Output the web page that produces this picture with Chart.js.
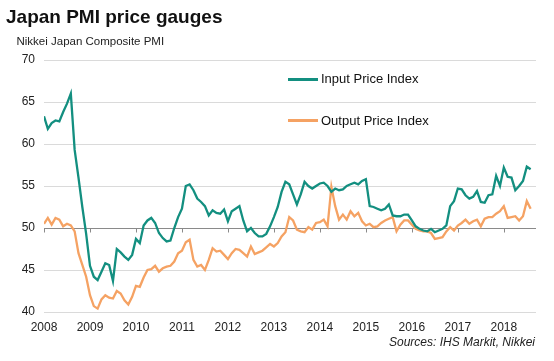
<!DOCTYPE html>
<html>
<head>
<meta charset="utf-8">
<script src="https://cdn.jsdelivr.net/npm/chart.js@4/dist/chart.umd.min.js"></script>
<style>
  html, body { margin: 0; padding: 0; background: #fff; }
  #wrap { position: relative; width: 554px; height: 361px; font-family: "Liberation Sans", Arial, sans-serif; }
  canvas { position: absolute; left: 0; top: 0; }
  .txt { position: absolute; white-space: nowrap; line-height: 1; }
  #title { left: 6px; top: 7px; font-size: 19px; font-weight: bold; color: #111; }
  #subtitle { left: 16.5px; top: 35.5px; font-size: 11.5px; color: #222; }
  #source { right: 19px; top: 336px; font-size: 12px; font-style: italic; color: #222; }
  .leg { font-size: 13px; color: #111; left: 321px; }
  .legline { position: absolute; left: 288px; width: 30px; height: 2.5px; }
</style>
</head>
<body>
<div id="wrap">
  <canvas id="c" width="554" height="361"></canvas>
  <div id="title" class="txt">Japan PMI price gauges</div>
  <div id="subtitle" class="txt">Nikkei Japan Composite PMI</div>
  <div class="legline" style="top:78px;background:#138f80"></div>
  <div class="txt leg" style="top:72px">Input Price Index</div>
  <div class="legline" style="top:119px;background:#f5a263"></div>
  <div class="txt leg" style="top:113.5px">Output Price Index</div>
  <div id="source" class="txt">Sources: IHS Markit, Nikkei</div>
</div>
<script>
// Year tick labels (one tick every 12 months, first month = Jan 2008)
const yearLabels = ['2008','2009','2010','2011','2012','2013','2014','2015','2016','2017','2018'];
const yTicks = [40, 45, 50, 55, 60, 65, 70];

// Monthly values, Jan 2008 .. Aug 2018
const inputPrice = [
  63.3, 61.8, 62.5, 62.8, 62.7, 63.8, 64.8, 66.0, 59.3, 56.0, 52.5, 49.3,
  45.5, 44.2, 43.8, 44.8, 45.8, 45.6, 43.7, 47.5, 47.1, 46.6, 46.2, 46.8,
  48.7, 48.2, 50.3, 50.9, 51.2, 50.6, 49.4, 48.8, 48.4, 48.5, 50.0, 51.3,
  52.3, 55.0, 55.2, 54.5, 53.5, 53.1, 52.6, 51.5, 52.1, 51.8, 51.7, 52.2,
  50.8, 52.0, 52.3, 52.6, 50.9, 49.6, 50.0, 49.4, 49.0, 49.0, 49.3, 50.2,
  51.3, 52.5, 54.3, 55.5, 55.2, 54.0, 52.8, 54.0, 55.5, 55.0, 54.7, 55.0,
  55.3, 55.4, 55.0, 54.3, 54.7, 54.5, 54.6, 55.0, 55.2, 55.4, 55.2, 55.6,
  55.8, 52.6, 52.5, 52.3, 52.1, 52.3, 52.8, 51.5, 51.4, 51.4, 51.6, 51.6,
  50.9, 50.2, 49.9, 49.7, 49.6, 49.9, 49.5, 49.7, 49.9, 50.3, 52.6, 53.2,
  54.7, 54.6, 53.9, 53.5, 53.7, 54.4, 53.1, 53.0, 53.9, 54.0, 56.2, 55.0,
  57.2, 56.1, 56.0, 54.5, 55.0, 55.6, 57.3, 57.0
];
const outputPrice = [
  50.5, 51.2, 50.4, 51.2, 51.0, 50.2, 50.5, 50.3, 49.6, 47.0, 45.6, 44.2,
  42.0, 40.7, 40.4, 41.5, 42.0, 41.7, 41.6, 42.5, 42.2, 41.4, 40.9, 41.8,
  43.1, 43.0, 44.1, 45.0, 45.1, 45.5, 44.8, 45.2, 45.4, 45.5, 46.0, 47.0,
  47.3, 48.3, 48.6, 46.2, 45.4, 45.6, 45.0, 46.2, 47.6, 47.2, 47.3, 46.8,
  46.3, 47.0, 47.5, 47.4, 47.0, 46.6, 47.8, 46.9, 47.1, 47.3, 47.7, 48.1,
  47.8, 48.2, 49.0, 49.5, 51.3, 50.9, 49.8, 49.6, 49.5, 50.1, 49.8, 50.6,
  50.7, 51.0, 50.2, 54.9, 52.6, 51.0, 51.6, 51.0, 52.0, 51.4, 51.8, 50.8,
  50.3, 50.5, 50.1, 50.2, 50.6, 50.9, 51.1, 51.3, 49.6, 50.4, 50.9, 50.9,
  50.4, 49.9, 49.7, 49.6, 49.6, 49.4, 48.7, 48.8, 48.9, 49.6, 50.1, 49.7,
  50.3, 50.6, 51.0, 50.5, 50.8, 51.0, 50.2, 51.1, 51.3, 51.3, 51.7, 52.0,
  52.6, 51.2, 51.3, 51.4, 50.9, 51.4, 53.2, 52.3
];

const toPoints = arr => arr.map((v, i) => ({ x: i, y: v }));

const fiftyLine = {
  id: 'fiftyLine',
  beforeDatasetsDraw(chart) {
    const { ctx, scales: { x, y } } = chart;
    const py = Math.round(y.getPixelForValue(50)) + 0.5;
    ctx.save();
    ctx.strokeStyle = '#8a8a8a';
    ctx.lineWidth = 1;
    ctx.beginPath();
    ctx.moveTo(x.left, py);
    ctx.lineTo(x.right, py);
    yearLabels.forEach((_, i) => {
      const px = Math.round(x.getPixelForValue(i * 12)) + 0.5;
      ctx.moveTo(px, py);
      ctx.lineTo(px, py + 4);
    });
    ctx.stroke();
    ctx.restore();
  }
};

new Chart(document.getElementById('c'), {
  type: 'line',
  data: {
    datasets: [
      { label: 'Input Price Index', data: toPoints(inputPrice), borderColor: '#138f80', borderWidth: 2.3, pointRadius: 0, tension: 0, fill: false },
      { label: 'Output Price Index', data: toPoints(outputPrice), borderColor: '#f5a263', borderWidth: 2.3, pointRadius: 0, tension: 0, fill: false }
    ]
  },
  options: {
    responsive: false,
    animation: false,
    events: [],
    layout: { padding: { top: 60, right: 18, left: 0, bottom: 0 } },
    plugins: { legend: { display: false }, tooltip: { enabled: false }, title: { display: false } },
    scales: {
      x: {
        type: 'linear', min: 0, max: 128.4,
        afterBuildTicks: s => { s.ticks = yearLabels.map((_, i) => ({ value: i * 12 })); },
        afterFit: s => { s.height = 49; },
        grid: { display: false, drawTicks: false },
        border: { display: false },
        ticks: {
          padding: 8, autoSkip: false, maxRotation: 0,
          color: '#222', font: { family: 'Liberation Sans', size: 12 },
          callback: v => yearLabels[Math.round(v / 12)]
        }
      },
      y: {
        min: 40, max: 70,
        afterBuildTicks: s => { s.ticks = yTicks.map(v => ({ value: v })); },
        afterFit: s => { s.width = 44; },
        grid: { drawTicks: false, color: c => c.tick && c.tick.value === 50 ? 'rgba(0,0,0,0)' : '#dadada', lineWidth: 1 },
        border: { display: false },
        ticks: { padding: 9, color: '#222', font: { family: 'Liberation Sans', size: 12 } }
      }
    }
  },
  plugins: [fiftyLine]
});
</script>
</body>
</html>
